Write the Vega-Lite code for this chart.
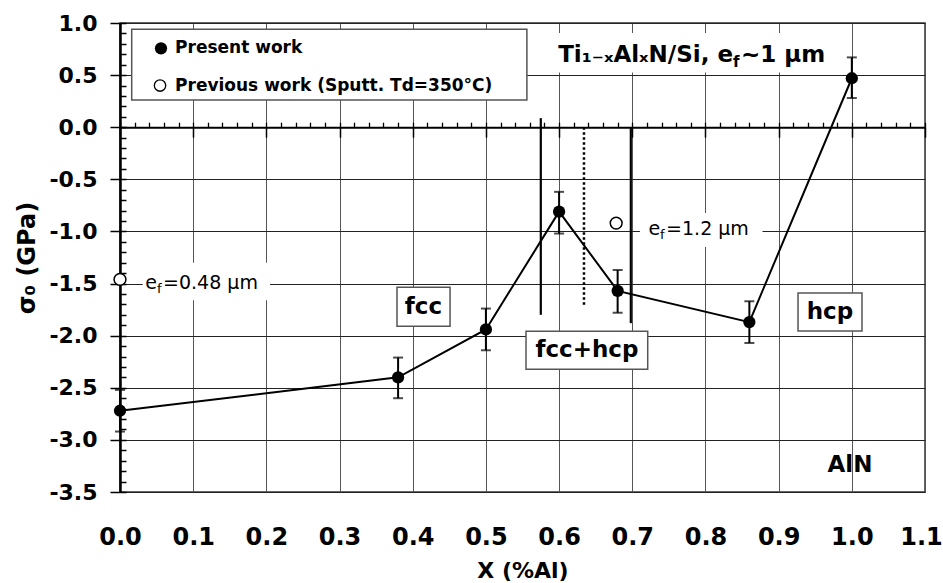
{
  "$schema": "https://vega.github.io/schema/vega-lite/v6.json",
  "width": 805,
  "height": 469,
  "autosize": {"type": "none"},
  "padding": {"left": 120, "top": 23, "right": 18, "bottom": 91},
  "background": "white",
  "config": {
    "view": {"stroke": "#333", "strokeWidth": 1.5},
    "axis": {"labelFont": "DejaVu Sans", "labelFontWeight": "bold", "labelColor": "black", "titleFont": "DejaVu Sans", "titleFontWeight": "bold", "titleColor": "black"},
    "text": {"font": "DejaVu Sans", "fontWeight": "bold", "color": "black"}
  },
  "datasets": {
    "present": [
      {"x": 0.0, "y": -2.72, "lo": -2.92, "hi": -2.52},
      {"x": 0.38, "y": -2.40, "lo": -2.60, "hi": -2.21},
      {"x": 0.5, "y": -1.94, "lo": -2.14, "hi": -1.74},
      {"x": 0.6, "y": -0.81, "lo": -1.02, "hi": -0.62},
      {"x": 0.68, "y": -1.57, "lo": -1.78, "hi": -1.37},
      {"x": 0.86, "y": -1.87, "lo": -2.07, "hi": -1.67},
      {"x": 1.0, "y": 0.47, "lo": 0.28, "hi": 0.67}
    ],
    "previous": [
      {"x": 0.0, "y": -1.46},
      {"x": 0.678, "y": -0.92}
    ],
    "phaseSolid": [
      {"x": 0.575, "top": 0.087, "bottom": -1.80},
      {"x": 0.698, "top": 0.0, "bottom": -1.88}
    ],
    "phaseDotted": [
      {"x": 0.634, "top": 0.0, "bottom": -1.71}
    ],
    "whiteBoxes": [
      {"x1": 0.588, "x2": 0.970, "y1": 0.524, "y2": 0.904},
      {"x1": 0.031, "x2": 0.205, "y1": -1.30, "y2": -1.66},
      {"x1": 0.7105, "x2": 0.878, "y1": -0.823, "y2": -1.15}
    ],
    "framedBoxes": [
      {"x1": 0.016, "x2": 0.556, "y1": 0.262, "y2": 0.939},
      {"x1": 0.3785, "x2": 0.4510, "y1": -1.535, "y2": -1.910},
      {"x1": 0.5548, "x2": 0.7211, "y1": -1.958, "y2": -2.322},
      {"x1": 0.9265, "x2": 1.0139, "y1": -1.591, "y2": -1.956}
    ],
    "regionLabels": [
      {"x": 0.4147, "y": -1.721, "label": "fcc"},
      {"x": 0.638, "y": -2.138, "label": "fcc+hcp"},
      {"x": 0.970, "y": -1.774, "label": "hcp"},
      {"x": 0.9975, "y": -3.243, "label": "AlN"}
    ],
    "legend": [
      {"sx": 0.056, "tx": 0.0752, "y": 0.757, "label": "Present work", "series": "present"},
      {"sx": 0.0547, "tx": 0.0752, "y": 0.40, "label": "Previous work (Sputt. Td=350°C)", "series": "previous"}
    ],
    "title": [
      {"x": 0.8377, "y": 0.629, "head": "Ti₁₋ₓAlₓN/Si, e", "tail": "~1 µm"}
    ],
    "efLabels": [
      {"x": 0.0506, "y": -1.553, "tail": "=0.48 µm"},
      {"x": 0.738, "y": -1.035, "tail": "=1.2 µm"}
    ]
  },
  "layer": [
    {
      "data": {"name": "present"},
      "mark": {"type": "line", "color": "black", "strokeWidth": 2},
      "encoding": {
        "x": {"field": "x", "type": "quantitative", "scale": {"domain": [0, 1.1], "nice": false, "zero": false},
          "axis": {"orient": "bottom", "title": "X (%Al)", "titleFontSize": 22, "titleX": 402.5, "titleY": 78, "titleBaseline": "middle", "titleAlign": "center",
            "values": [0, 0.1, 0.2, 0.3, 0.4, 0.5, 0.6, 0.7, 0.8, 0.9, 1.0, 1.1], "format": ".1f", "labelFontSize": 24, "labelPadding": 33,
            "labelOffset": {"condition": {"test": "datum.value > 1.05", "value": -4}, "value": 0},
            "ticks": false, "tickSize": 0, "domain": false, "grid": true, "gridColor": "#555", "gridWidth": 1, "labelFlush": false}},
        "y": {"field": "y", "type": "quantitative", "scale": {"domain": [-3.5, 1.0], "nice": false, "zero": false},
          "axis": {"orient": "left", "title": "σ₀ (GPa)", "titleFontSize": 24, "titleAngle": -90, "titleX": -93, "titleY": 234.5, "titleBaseline": "middle", "titleAlign": "center",
            "values": [-3.5, -3.0, -2.5, -2.0, -1.5, -1.0, -0.5, 0.0, 0.5, 1.0], "labelExpr": "replace(format(datum.value, '.1f'), '\u2212', '-')", "labelFontSize": 22, "labelPadding": 13,
            "ticks": true, "tickSize": 10, "tickColor": "black", "tickWidth": 1.5, "domain": true, "domainColor": "black", "domainWidth": 2.5,
            "grid": true, "gridColor": "#222", "gridWidth": 1.2, "labelFlush": false}}
      }
    },
    {
      "data": {"name": "phaseSolid"},
      "mark": {"type": "rule", "color": "black", "strokeWidth": 2.2},
      "encoding": {
        "x": {"field": "x", "type": "quantitative", "axis": null},
        "y": {"field": "top", "type": "quantitative", "axis": null},
        "y2": {"field": "bottom"}
      }
    },
    {
      "data": {"name": "phaseDotted"},
      "mark": {"type": "rule", "color": "black", "strokeWidth": 2.5, "strokeDash": [2.5, 2.5]},
      "encoding": {
        "x": {"field": "x", "type": "quantitative", "axis": null},
        "y": {"field": "top", "type": "quantitative", "axis": null},
        "y2": {"field": "bottom"}
      }
    },
    {
      "data": {"name": "present"},
      "mark": {"type": "errorbar", "color": "black", "rule": {"strokeWidth": 2}, "ticks": {"size": 10, "thickness": 2, "color": "black"}},
      "encoding": {
        "x": {"field": "x", "type": "quantitative", "axis": null},
        "y": {"field": "lo", "type": "quantitative", "axis": null},
        "y2": {"field": "hi"}
      }
    },
    {
      "data": {"name": "present"},
      "mark": {"type": "point", "shape": "circle", "filled": true, "color": "black", "size": 150, "opacity": 1},
      "encoding": {
        "x": {"field": "x", "type": "quantitative",
          "axis": {"orient": "top", "offset": -104.22, "title": null, "labels": false, "grid": false,
            "values": [0, 0.02, 0.04, 0.06, 0.08, 0.1, 0.12, 0.14, 0.16, 0.18, 0.2, 0.22, 0.24, 0.26, 0.28, 0.3, 0.32, 0.34, 0.36, 0.38, 0.4, 0.42, 0.44, 0.46, 0.48, 0.5, 0.52, 0.54, 0.56, 0.58, 0.6, 0.62, 0.64, 0.66, 0.68, 0.7, 0.72, 0.74, 0.76, 0.78, 0.8, 0.82, 0.84, 0.86, 0.88, 0.9, 0.92, 0.94, 0.96, 0.98, 1.0, 1.02, 1.04, 1.06, 1.08, 1.1],
            "ticks": true, "tickSize": 5, "tickColor": "black", "tickWidth": 1.3, "domain": true, "domainColor": "black", "domainWidth": 2}},
        "y": {"field": "y", "type": "quantitative",
          "axis": {"orient": "right", "offset": -805, "title": null, "labels": false, "grid": false, "domain": false,
            "values": [-3.5, -3.4, -3.3, -3.2, -3.1, -3.0, -2.9, -2.8, -2.7, -2.6, -2.5, -2.4, -2.3, -2.2, -2.1, -2.0, -1.9, -1.8, -1.7, -1.6, -1.5, -1.4, -1.3, -1.2, -1.1, -1.0, -0.9, -0.8, -0.7, -0.6, -0.5, -0.4, -0.3, -0.2, -0.1, 0.0, 0.1, 0.2, 0.3, 0.4, 0.5, 0.6, 0.7, 0.8, 0.9, 1.0],
            "ticks": true, "tickSize": 6, "tickColor": "black", "tickWidth": 1.5}}
      }
    },
    {
      "data": {"name": "previous"},
      "mark": {"type": "point", "shape": "circle", "filled": true, "fill": "white", "stroke": "black", "strokeWidth": 1.5, "size": 140, "opacity": 1},
      "encoding": {
        "x": {"field": "x", "type": "quantitative",
          "axis": {"orient": "bottom", "offset": -364.78, "title": null, "labels": false, "grid": false, "domain": false,
            "values": [0, 0.1, 0.2, 0.3, 0.4, 0.5, 0.6, 0.7, 0.8, 0.9, 1.0, 1.1],
            "ticks": true, "tickSize": 10, "tickColor": "black", "tickWidth": 1.5}},
        "y": {"field": "y", "type": "quantitative", "axis": null}
      }
    },
    {
      "data": {"name": "whiteBoxes"},
      "mark": {"type": "rect", "fill": "white", "stroke": null},
      "encoding": {
        "x": {"field": "x1", "type": "quantitative", "axis": null},
        "x2": {"field": "x2"},
        "y": {"field": "y1", "type": "quantitative", "axis": null},
        "y2": {"field": "y2"}
      }
    },
    {
      "data": {"name": "framedBoxes"},
      "mark": {"type": "rect", "fill": "white", "stroke": "#555", "strokeWidth": 1.5},
      "encoding": {
        "x": {"field": "x1", "type": "quantitative", "axis": null},
        "x2": {"field": "x2"},
        "y": {"field": "y1", "type": "quantitative", "axis": null},
        "y2": {"field": "y2"}
      }
    },
    {
      "data": {"name": "regionLabels"},
      "mark": {"type": "text", "fontSize": 23, "align": "center", "baseline": "middle"},
      "encoding": {
        "x": {"field": "x", "type": "quantitative", "axis": null},
        "y": {"field": "y", "type": "quantitative", "axis": null},
        "text": {"field": "label"}
      }
    },
    {
      "data": {"name": "legend"},
      "mark": {"type": "text", "fontSize": 17, "align": "left", "baseline": "middle"},
      "encoding": {
        "x": {"field": "tx", "type": "quantitative", "axis": null},
        "y": {"field": "y", "type": "quantitative", "axis": null},
        "text": {"field": "label"}
      }
    },
    {
      "data": {"name": "legend"},
      "transform": [{"filter": "datum.series === 'present'"}],
      "mark": {"type": "point", "shape": "circle", "filled": true, "color": "black", "size": 150, "opacity": 1},
      "encoding": {
        "x": {"field": "sx", "type": "quantitative", "axis": null},
        "y": {"field": "y", "type": "quantitative", "axis": null}
      }
    },
    {
      "data": {"name": "legend"},
      "transform": [{"filter": "datum.series === 'previous'"}],
      "mark": {"type": "point", "shape": "circle", "filled": true, "fill": "white", "stroke": "black", "strokeWidth": 1.3, "size": 130, "opacity": 1},
      "encoding": {
        "x": {"field": "sx", "type": "quantitative", "axis": null},
        "y": {"field": "y", "type": "quantitative", "axis": null}
      }
    },
    {
      "data": {"name": "title"},
      "mark": {"type": "text", "fontSize": 23, "align": "right", "baseline": "alphabetic"},
      "encoding": {
        "x": {"field": "x", "type": "quantitative", "axis": null},
        "y": {"field": "y", "type": "quantitative", "axis": null},
        "text": {"field": "head"}
      }
    },
    {
      "data": {"name": "title"},
      "mark": {"type": "text", "fontSize": 15, "align": "left", "baseline": "alphabetic", "dy": 5, "text": "f"},
      "encoding": {
        "x": {"field": "x", "type": "quantitative", "axis": null},
        "y": {"field": "y", "type": "quantitative", "axis": null}
      }
    },
    {
      "data": {"name": "title"},
      "mark": {"type": "text", "fontSize": 23, "align": "left", "baseline": "alphabetic", "dx": 8},
      "encoding": {
        "x": {"field": "x", "type": "quantitative", "axis": null},
        "y": {"field": "y", "type": "quantitative", "axis": null},
        "text": {"field": "tail"}
      }
    },
    {
      "data": {"name": "efLabels"},
      "mark": {"type": "text", "fontSize": 19, "align": "right", "baseline": "alphabetic", "text": "e", "fontWeight": "normal"},
      "encoding": {
        "x": {"field": "x", "type": "quantitative", "axis": null},
        "y": {"field": "y", "type": "quantitative", "axis": null}
      }
    },
    {
      "data": {"name": "efLabels"},
      "mark": {"type": "text", "fontSize": 13, "align": "left", "baseline": "alphabetic", "dy": 4, "text": "f", "fontWeight": "normal"},
      "encoding": {
        "x": {"field": "x", "type": "quantitative", "axis": null},
        "y": {"field": "y", "type": "quantitative", "axis": null}
      }
    },
    {
      "data": {"name": "efLabels"},
      "mark": {"type": "text", "fontSize": 19, "align": "left", "baseline": "alphabetic", "dx": 6, "fontWeight": "normal"},
      "encoding": {
        "x": {"field": "x", "type": "quantitative", "axis": null},
        "y": {"field": "y", "type": "quantitative", "axis": null},
        "text": {"field": "tail"}
      }
    }
  ],
  "resolve": {"axis": {"x": "independent", "y": "independent"}}
}
